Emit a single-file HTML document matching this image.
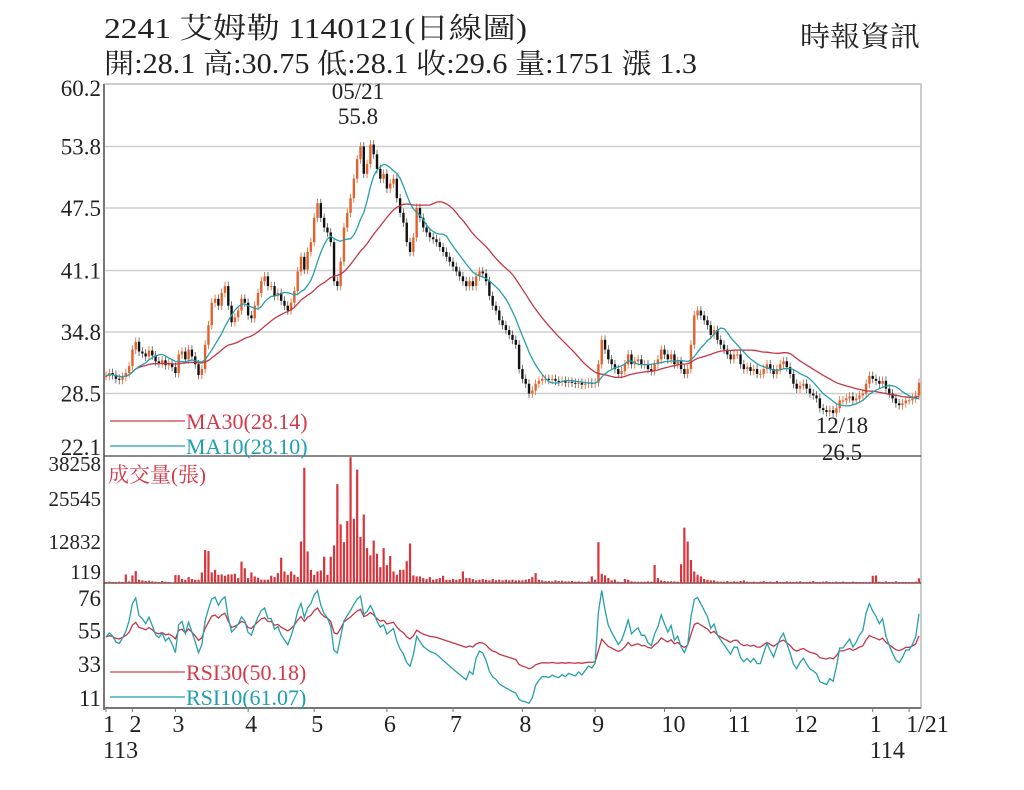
<!DOCTYPE html>
<html><head><meta charset="utf-8"><style>
body{margin:0;background:#fff;width:1024px;height:790px;overflow:hidden}
svg{display:block}
text{font-family:"Liberation Serif","Noto Serif CJK SC",serif}
</style></head><body>
<svg id="c" width="1024" height="790">
<text x="104" y="38" font-size="29" textLength="423" lengthAdjust="spacingAndGlyphs" fill="#222">2241  艾姆勒 1140121(日線圖)</text>
<text x="104" y="73" font-size="28" textLength="593" lengthAdjust="spacingAndGlyphs" fill="#222">開:28.1 高:30.75 低:28.1 收:29.6 量:1751 漲 1.3</text>
<text x="800" y="46" font-size="28" textLength="120" lengthAdjust="spacingAndGlyphs" fill="#222">時報資訊</text>
<g id="g"></g>
</svg>
<script>
const closes=[30.3,30.6,30.4,30.0,29.9,30.2,30.6,31.3,
33.0,33.8,32.8,32.6,32.3,32.9,
32.4,31.8,31.6,31.9,31.4,31.6,31.2,30.6,
32.5,32.8,32.0,33.0,32.3,31.5,30.4,31.0,
33.5,35.5,37.8,38.2,37.5,38.8,39.5,37.5,35.8,
36.3,37.0,38.2,37.8,36.5,36.2,37.5,38.8,40.0,
40.5,39.5,39.5,38.5,38.8,38.0,37.5,37.0,37.8,
39.0,41.0,42.5,41.2,43.0,44.0,46.5,48.0,46.5,
45.5,45.0,44.0,40.0,39.5,42.0,45.5,47.0,48.5,
50.5,52.5,53.8,51.0,52.0,54.0,53.0,51.5,50.5,
51.0,49.5,50.0,50.5,48.5,47.0,46.0,44.0,43.0,
44.5,47.5,46.5,45.5,45.0,44.5,44.3,44.0,43.5,
43.0,42.5,42.0,41.5,41.0,40.5,40.0,39.5,40.0,
39.5,40.5,41.0,40.8,40.0,38.5,37.5,37.0,36.0,
35.5,35.0,34.5,34.0,33.5,31.0,30.0,29.5,28.5,
28.8,29.5,29.8,30.0,30.0,29.9,30.0,29.8,29.7,
29.8,29.6,29.7,29.6,29.5,29.6,29.4,29.5,29.6,29.5,29.6,31.5,
34.0,33.0,32.0,31.5,31.0,30.5,30.8,31.5,32.5,31.5,
31.8,32.0,31.5,31.5,31.0,30.8,31.5,32.0,33.0,
32.5,32.0,32.5,31.5,31.8,31.0,30.5,31.0,33.5,
36.5,37.0,36.5,36.0,35.5,34.5,35.0,34.0,33.5,
33.0,32.5,32.0,32.5,32.5,31.5,31.0,31.2,30.8,
31.0,30.5,30.5,31.0,31.5,31.0,30.5,31.0,31.5,
31.8,31.2,30.5,29.5,29.0,29.3,29.5,29.0,28.5,
28.3,28.0,27.0,26.8,26.6,26.8,26.5,27.0,27.8,
27.8,28.0,28.2,27.8,28.0,28.3,28.5,29.5,30.3,
30.0,29.8,29.5,29.8,29.0,28.5,28.0,27.5,27.3,
27.5,27.8,27.8,28.0,28.3,29.6];
const volumes=[0.3,0.4,0.3,0.3,0.4,0.3,2.6,0.5,
2.3,3.6,1.0,0.8,0.6,0.7,0.5,0.4,
0.3,0.6,0.4,0.3,0.2,2.4,2.4,1.2,
1.0,1.8,1.2,1.0,1.0,3.2,10.0,9.7,
3.2,4.0,2.5,2.6,2.2,2.6,2.6,2.8,
1.5,6.5,4.5,1.5,3.2,2.0,1.6,1.0,
1.0,1.0,2.2,1.8,3.0,7.7,3.5,2.5,
3.5,2.5,1.8,12.6,35.0,9.6,4.0,2.5,
3.5,3.8,8.0,2.5,8.0,11.4,30.0,17.8,
12.4,18.8,38.2,19.5,34.4,14.0,20.8,10.6,
8.4,12.9,8.9,4.8,10.6,5.4,8.2,3.5,
2.5,4.0,4.0,6.6,12.0,2.3,2.0,2.0,
1.5,1.2,1.8,1.0,1.2,1.5,2.2,1.0,1.0,1.2,1.0,1.2,3.5,1.5,1.5,1.2,0.8,1.0,1.2,1.0,0.8,1.2,0.8,1.0,0.8,1.0,0.8,1.0,0.8,0.8,
0.8,1.0,1.2,1.8,3.0,1.0,0.8,0.6,
0.6,0.5,0.8,0.6,0.7,0.5,0.5,0.6,
0.4,0.5,0.4,0.3,0.5,2.0,1.0,12.4,
2.8,2.3,1.5,0.8,1.0,0.4,0.3,1.2,
1.0,0.5,0.4,0.4,0.4,0.4,0.5,0.4,
5.5,1.5,0.8,0.6,0.5,0.5,0.5,0.4,
5.7,16.8,12.6,7.0,3.5,2.5,2.0,1.2,
1.0,0.8,0.8,0.5,0.4,0.4,0.6,0.4,
0.5,0.4,0.6,0.8,0.4,0.3,0.4,0.3,
0.4,0.6,0.3,0.4,0.3,0.6,0.3,0.3,
0.5,0.4,0.3,0.4,0.5,0.3,0.3,0.4,
0.6,0.3,0.3,0.4,0.5,0.3,0.3,0.4,
0.3,0.4,0.3,0.3,0.4,0.3,0.3,0.3,
0.3,0.3,2.2,2.3,0.4,0.3,0.5,0.3,
0.3,0.5,0.3,0.3,0.3,0.3,0.3,0.4,1.4];
const priceTicks=[60.2,53.8,47.5,41.1,34.8,28.5,22.1];
const volTicks=[38258,25545,12832,119];
const rsiTicks=[76,55,33,11];
const monthLabels=["1","2","3","4","5","6","7","8","9","10","11","12","1","1/21"];
const monthIdx=[0,8,21,43,63,85,105,126,148,169,189,209,232,243];
const yearLabels=["113","114"];
const yearIdx=[0,232];

const NS="http://www.w3.org/2000/svg";
const g=document.getElementById('g');
function el(t,a,txt){const e=document.createElementNS(NS,t);for(const k in a)e.setAttribute(k,a[k]);if(txt!==undefined)e.textContent=txt;g.appendChild(e);return e;}
const L=104,R=921,PT=84,PB=456,VB=583,RB=708;
const N=closes.length;
const xs=i=>L+2+i*(R-L-4)/(N-1);
const py=p=>PB-(p-22.1)*(PB-PT)/(60.2-22.1);
const vy=v=>VB-v*126/38.258;
const ry=v=>697-(v-11)*100/65;
function ma(n){return closes.map((c,i)=>{const s=Math.max(0,i-n+1);let t=0;for(let j=s;j<=i;j++)t+=closes[j];return t/(i-s+1);});}
function rsi(n){let au=0.3,ad=0.3;return closes.map((c,i)=>{if(i===0)return 50;const df=c-closes[i-1];
 au=(au*(n-1)+Math.max(df,0))/n;ad=(ad*(n-1)+Math.max(-df,0))/n;return 100*au/(au+ad);});}
priceTicks.forEach((p,k)=>{
 if(k>0&&k<6){const l=el('line',{x1:L,x2:R,y1:py(p),y2:py(p),stroke:'#cfcfcf','stroke-width':1.5});
 }
 const t=el('text',{x:101,y:py(p)+(k==0?12:k==6?-1:8),'font-size':23,'text-anchor':'end',fill:'#222'},p.toFixed(1));
 
});
const vyl=[471,506,549,579];
volTicks.forEach((v,k)=>{const t=el('text',{x:101,y:vyl[k],'font-size':21,'text-anchor':'end',fill:'#222'},String(v));
 });
rsiTicks.forEach(v=>{const t=el('text',{x:101,y:ry(v)+9,'font-size':23,'text-anchor':'end',fill:'#222'},String(v));
 });
let f=el('rect',{x:L,y:PT,width:R-L,height:RB-PT,fill:'none',stroke:'#bbb','stroke-width':1.5});

let ax=el('line',{x1:L,x2:L,y1:PT,y2:RB+2,stroke:'#777','stroke-width':2});

[PB,VB].forEach(y=>{const l=el('line',{x1:L,x2:R,y1:y,y2:y,stroke:'#444','stroke-width':1.3});
 });
let bx=el('line',{x1:L,x2:R,y1:RB,y2:RB,stroke:'#777','stroke-width':2});

closes.forEach((c,i)=>{
 const o=i>0?closes[i-1]:c;const up=c>=o;const col=up?'#e2622e':'#111';
 const hi=Math.max(o,c)+0.45,lo=Math.min(o,c)-0.45,x=xs(i);
 const w=el('line',{x1:x,x2:x,y1:py(hi),y2:py(lo),stroke:up?'#e2622e':'#555','stroke-width':0.8});
 
 const y1=py(Math.max(o,c)),y2=py(Math.min(o,c));
 const b=el('rect',{x:x-1.2,y:y1,width:2.4,height:Math.max(1,y2-y1),fill:col});
 
});
function line(arr,fn,col,name){const d=arr.map((v,i)=>(i?'L':'M')+xs(i).toFixed(1)+','+fn(v).toFixed(1)).join('');
 const p=el('path',{d:d,fill:'none',stroke:col,'stroke-width':1.3});}
line(ma(30),py,'#c23848','ma30-line');
line(ma(10),py,'#26a0ab','ma10-line');
volumes.forEach((v,i)=>{const b=el('rect',{x:xs(i)-1.1,y:vy(v),width:2.2,height:VB-vy(v),fill:'#d8343c'});
 });
line(rsi(30),ry,'#c23848','rsi30-line');
line(rsi(10),ry,'#26a0ab','rsi10-line');
function leg(y,col,txt,name){const l=el('line',{x1:110,x2:185,y1:y,y2:y,stroke:col,'stroke-width':1.2});
 
 const t=el('text',{x:186,y:y+8,'font-size':22,fill:col},txt);}
leg(421,'#d13a4a','MA30(28.14)','ma30-legend');
leg(446,'#1f9fb0','MA10(28.10)','ma10-legend');
leg(672,'#d13a4a','RSI30(50.18)','rsi30-legend');
leg(697,'#1f9fb0','RSI10(61.07)','rsi10-legend');
let vt=el('text',{x:108,y:482,'font-size':21,fill:'#d13a4a'},'成交量(張)');

[["05/21",358,99],["55.8",358,124],["12/18",842,433],["26.5",842,460]].forEach(a=>{
 const t=el('text',{x:a[1],y:a[2],'font-size':23,'text-anchor':'middle',fill:'#222'},a[0]);
 });
monthLabels.forEach((m,k)=>{const x=xs(monthIdx[k]);
 const tk=el('line',{x1:x,x2:x,y1:RB,y2:RB+4,stroke:'#777'});
 const t=el('text',{x:x-3,y:732,'font-size':24,fill:'#222'},m);});
yearLabels.forEach((y,k)=>{const t=el('text',{x:xs(yearIdx[k])-3,y:758,'font-size':24,fill:'#222'},y);
 });
</script>
</body></html>
